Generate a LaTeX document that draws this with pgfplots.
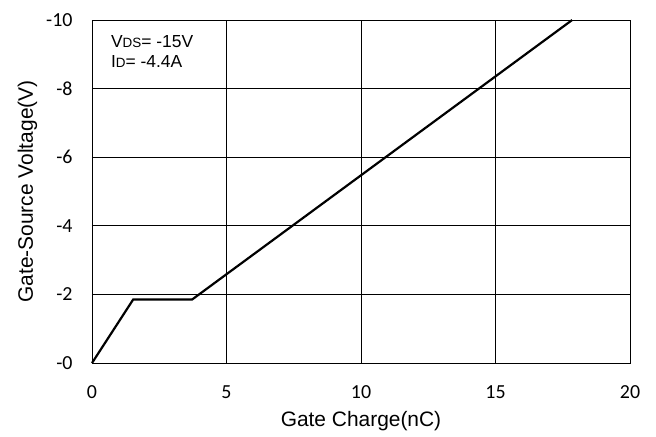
\documentclass[border=0pt]{standalone}
\usepackage{pgfplots}
\pgfplotsset{compat=1.18}
\usepackage{fontspec}
\setmainfont{Liberation Sans}
\newfontfamily\tickfont{Carlito}
\begin{document}
\begin{tikzpicture}
\begin{axis}[
  scale only axis,
  width=538bp, height=343bp,
  xmin=0, xmax=20,
  ymin=-10, ymax=0,
  y dir=reverse,
  xtick={0,5,10,15,20},
  ytick={-10,-8,-6,-4,-2,0},
  yticklabels={-10,-8,-6,-4,-2,-0},
  xticklabels={0,5,10,15,20},
  tick style={draw=none},
  grid=major,
  major grid style={black, line width=0.8pt},
  axis line style={black, line width=1pt},
  ticklabel style={font=\tickfont\fontsize{20}{24}\selectfont},
  xticklabel style={yshift=-19bp},
  yticklabel style={xshift=-16bp},
  label style={font=\fontsize{21}{25}\selectfont},
  xlabel={Gate Charge(nC)},
  ylabel={Gate-Source Voltage(V)},
  xlabel style={yshift=-6bp},
  ylabel style={yshift=2bp},
  clip=false,
]
\addplot[black, line width=2.2pt] coordinates {
  (0,0) (1.53,-1.85) (3.72,-1.85) (17.85,-10)
};
\node[anchor=north west, align=left, inner sep=0pt, font=\fontsize{17.5}{20}\selectfont]
  at (rel axis cs:0.035,0.955)
  {V{\fontsize{13.5}{15}\selectfont DS}= -15V\\ I{\fontsize{13.5}{15}\selectfont D}= -4.4A};
\path (rel axis cs:0,0) ++(-92bp,-74bp);
\path (rel axis cs:1,1) ++(26bp,20bp);
\end{axis}
\end{tikzpicture}
\end{document}
